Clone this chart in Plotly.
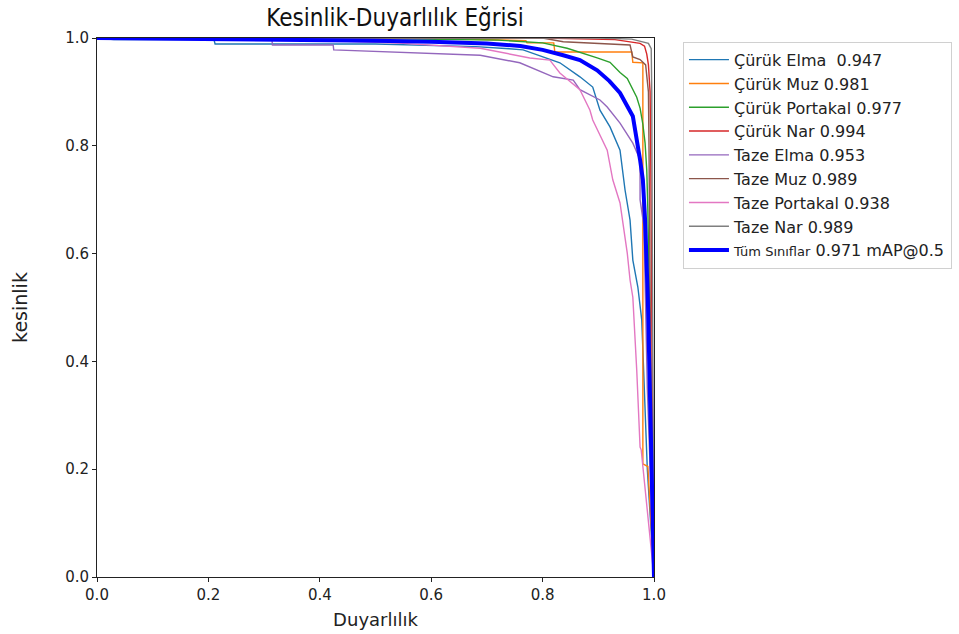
import plotly.graph_objects as go

# Precision-recall curves per class (recall, precision pairs)
names = [
    "Çürük Elma  0.947",
    "Çürük Muz 0.981",
    "Çürük Portakal 0.977",
    "Çürük Nar 0.994",
    "Taze Elma 0.953",
    "Taze Muz 0.989",
    "Taze Portakal 0.938",
    "Taze Nar 0.989",
]
colors = ["#1f77b4", "#ff7f0e", "#2ca02c", "#d62728",
          "#9467bd", "#8c564b", "#e377c2", "#7f7f7f"]

curuk_elma_r = [0.0, 0.03, 0.21, 0.212, 0.5, 0.6, 0.68, 0.74, 0.765, 0.831, 0.867, 0.89,
                0.903, 0.921, 0.939, 0.948, 0.957, 0.962, 0.971, 0.978, 0.984, 0.988, 1.0]
curuk_elma_p = [1.0, 0.997, 0.997, 0.989, 0.989, 0.987, 0.984, 0.98, 0.978, 0.954, 0.928, 0.909,
                0.866, 0.835, 0.792, 0.718, 0.662, 0.588, 0.538, 0.477, 0.304, 0.2, 0.0]

curuk_muz_r = [0.0, 0.6, 0.77, 0.772, 0.82, 0.822, 0.96, 0.962, 0.98, 0.98, 0.989, 1.0]
curuk_muz_p = [1.0, 1.0, 0.995, 0.991, 0.991, 0.974, 0.974, 0.955, 0.954, 0.21, 0.205, 0.0]

curuk_portakal_r = [0.0, 0.5, 0.72, 0.8, 0.844, 0.87, 0.898, 0.921, 0.939, 0.952, 0.962,
                    0.969, 0.975, 0.98, 0.984, 0.987, 0.989, 0.991, 0.992, 1.0]
curuk_portakal_p = [1.0, 0.999, 0.996, 0.991, 0.981, 0.973, 0.963, 0.955, 0.936, 0.925, 0.905,
                    0.89, 0.87, 0.84, 0.805, 0.755, 0.68, 0.55, 0.45, 0.0]

curuk_nar_r = [0.0, 0.8, 0.93, 0.96, 0.975, 0.983, 0.987, 0.99, 0.993, 0.994, 0.995, 0.996, 0.997, 1.0]
curuk_nar_p = [1.0, 1.0, 0.997, 0.993, 0.99, 0.985, 0.97, 0.95, 0.9, 0.8, 0.7, 0.5, 0.3, 0.0]

taze_elma_r = [0.0, 0.314, 0.315, 0.424, 0.425, 0.526, 0.585, 0.688, 0.759, 0.819, 0.855, 0.867,
               0.903, 0.916, 0.939, 0.962, 0.975, 0.975, 0.982, 0.985, 0.988, 1.0]
taze_elma_p = [1.0, 0.998, 0.987, 0.987, 0.978, 0.974, 0.972, 0.968, 0.954, 0.928, 0.922, 0.904,
               0.885, 0.872, 0.842, 0.805, 0.774, 0.70, 0.65, 0.5, 0.35, 0.0]

taze_muz_r = [0.0, 0.8, 0.837, 0.957, 0.962, 0.975, 0.985, 0.99, 0.991, 0.992, 0.994, 1.0]
taze_muz_p = [1.0, 1.0, 0.993, 0.987, 0.965, 0.96, 0.95, 0.9, 0.8, 0.6, 0.4, 0.0]

taze_portakal_r = [0.0, 0.3, 0.45, 0.55, 0.688, 0.777, 0.813, 0.831, 0.867, 0.885, 0.89, 0.916,
                   0.926, 0.939, 0.952, 0.957, 0.962, 0.969, 0.975, 0.977, 1.0]
taze_portakal_p = [1.0, 0.998, 0.994, 0.99, 0.981, 0.963, 0.959, 0.935, 0.904, 0.866, 0.848, 0.792,
                   0.737, 0.694, 0.601, 0.551, 0.519, 0.384, 0.241, 0.236, 0.0]

taze_nar_r = [0.0, 0.9, 0.96, 0.98, 0.99, 0.995, 0.996, 0.997, 0.998, 1.0]
taze_nar_p = [1.0, 1.0, 0.998, 0.993, 0.99, 0.98, 0.9, 0.6, 0.3, 0.0]

# Mean over all classes
tum_r = [0.0, 0.3, 0.5, 0.6, 0.7, 0.76, 0.80, 0.837, 0.867, 0.898, 0.92, 0.939, 0.955,
         0.962, 0.975, 0.98, 0.984, 0.989, 0.993, 0.996, 1.0]
tum_p = [1.0, 0.998, 0.995, 0.993, 0.99, 0.985, 0.978, 0.968, 0.959, 0.94, 0.92, 0.898, 0.87,
         0.855, 0.774, 0.737, 0.662, 0.514, 0.328, 0.143, 0.0]
tum_name = '<span style="font-size:13px">Tüm Sınıflar</span> 0.971 mAP@0.5'

recalls = [curuk_elma_r, curuk_muz_r, curuk_portakal_r, curuk_nar_r,
           taze_elma_r, taze_muz_r, taze_portakal_r, taze_nar_r]
precisions = [curuk_elma_p, curuk_muz_p, curuk_portakal_p, curuk_nar_p,
              taze_elma_p, taze_muz_p, taze_portakal_p, taze_nar_p]

ticks = [0.0, 0.2, 0.4, 0.6, 0.8, 1.0]

fig = go.Figure()
for r, p, n, c in zip(recalls, precisions, names, colors):
    fig.add_trace(go.Scatter(x=r, y=p, mode="lines", name=n,
                             line=dict(color=c, width=1.4)))
fig.add_trace(go.Scatter(x=tum_r, y=tum_p, mode="lines", name=tum_name,
                         line=dict(color="#0000ff", width=4)))

font_family = "DejaVu Sans, Noto Sans, sans-serif"
fig.update_layout(
    width=959, height=634,
    margin=dict(l=97, r=305, t=38, b=57, autoexpand=False),
    paper_bgcolor="white", plot_bgcolor="white",
    font=dict(family=font_family, size=15, color="#222"),
    title=dict(text="Kesinlik-Duyarlılık Eğrisi",
               font=dict(family="DejaVu Sans Condensed, DejaVu Sans", size=24, color="#111"),
               x=0.412, xanchor="center", y=0.972, yanchor="middle",
               xref="container", yref="container"),
    showlegend=True,
    legend=dict(x=1.052, y=0.993, xanchor="left", yanchor="top",
                bordercolor="#d0d0d0", borderwidth=1, bgcolor="white",
                font=dict(size=16, color="#222"), itemwidth=40,
                tracegroupgap=0),
)
fig.update_xaxes(range=[0, 1], tickvals=ticks, tickformat=".1f", automargin=False,
                 showline=True, mirror=True, linecolor="#222", linewidth=1,
                 ticks="outside", ticklen=4, tickcolor="#222",
                 showgrid=False, zeroline=False,
                 title=dict(text="Duyarlılık", font=dict(size=18), standoff=10))
fig.update_yaxes(range=[0, 1], tickvals=ticks, tickformat=".1f", automargin=False,
                 showline=True, mirror=True, linecolor="#222", linewidth=1,
                 ticks="outside", ticklen=4, tickcolor="#222",
                 showgrid=False, zeroline=False,
                 title=dict(text="kesinlik", font=dict(size=19), standoff=32))

fig.write_html("out.html")
